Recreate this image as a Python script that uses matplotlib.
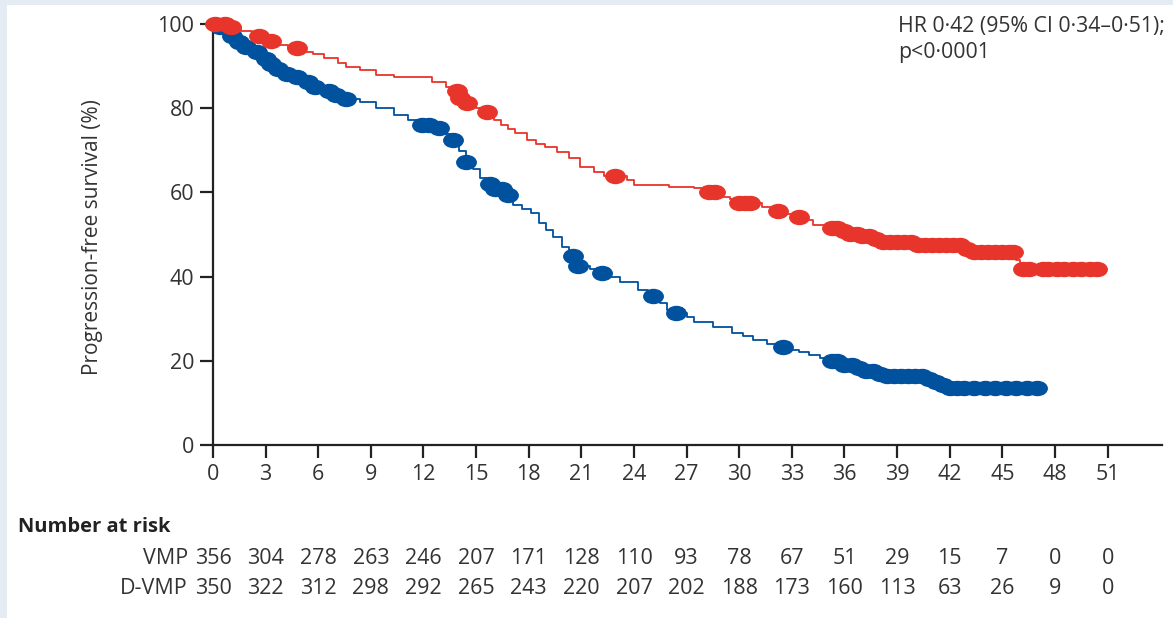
import numpy as np
import matplotlib.pyplot as plt
from matplotlib.patches import Rectangle
from matplotlib.path import Path
from matplotlib.transforms import blended_transform_factory

plt.rcParams['font.family'] = ['Open Sans', 'DejaVu Sans']

# VMP arm (blue): step times (months) and survival (%) after each step
vmp_t = [0, 0.3, 0.6, 1.0, 1.4, 1.8, 2.3, 2.8, 3.1, 3.5, 4.0, 4.6, 5.3, 5.8, 6.5, 7.0, 7.5,
         8.4, 9.3, 10.3, 11.1, 11.8, 12.6, 13.2, 13.6, 14.0, 14.4, 14.8, 15.2, 15.6, 16.1,
         16.6, 17.1, 17.6, 18.1, 18.6, 19.0, 19.4, 19.9, 20.3, 20.7, 21.5, 22.0, 22.7, 23.2,
         24.2, 24.8, 25.5, 25.9, 26.3, 27.0, 27.4, 28.5, 29.6, 30.2, 30.8, 31.6, 32.2, 33.0,
         33.4, 34.0, 34.6, 35.0, 35.8, 36.5, 37.2, 37.8, 38.4, 40.5, 41.0, 41.6, 42.0]
vmp_s = [100, 99.2, 98.3, 97.2, 95.8, 94.5, 93.4, 91.6, 90.5, 89.3, 88.2, 87.4, 86.2, 85.0,
         84.0, 83.1, 82.2, 81.5, 80.0, 78.4, 77.2, 76.0, 75.3, 73.8, 72.4, 69.8, 67.2, 65.5,
         63.5, 62.0, 60.8, 59.5, 57.0, 56.0, 55.1, 52.7, 51.0, 49.4, 47.0, 45.0, 42.6, 41.8,
         40.9, 39.8, 38.7, 36.8, 35.5, 33.8, 32.1, 31.4, 30.3, 29.2, 28.0, 26.6, 25.8, 24.9,
         24.0, 23.3, 22.6, 22.1, 21.4, 20.7, 19.9, 19.0, 18.3, 17.5, 16.8, 16.4, 15.7, 15.0,
         14.3, 13.5]
vmp_cens = [0.4, 1.1, 1.5, 1.9, 2.5, 3.0, 3.3, 3.7, 4.2, 4.8, 5.4, 5.8, 6.6, 7.0, 7.6, 11.9,
            12.3, 12.9, 13.7, 14.4, 15.8, 16.1, 16.5, 16.8, 20.5, 20.8, 22.2, 25.1, 26.4, 32.5,
            35.3, 35.6, 36.0, 36.4, 36.8, 37.2, 37.6, 38.0, 38.4, 38.8, 39.2, 39.6, 40.0, 40.4,
            40.8, 41.2, 41.6, 42.0, 42.4, 42.8, 43.4, 44.0, 44.6, 45.2, 45.8, 46.4, 47.0]

# D-VMP arm (red)
dvmp_t = [0, 0.8, 1.6, 2.2, 2.9, 3.6, 4.3, 5.2, 5.7, 6.3, 7.1, 7.6, 8.4, 9.3, 10.3, 12.5, 13.3,
          13.6, 14.1, 14.4, 15.0, 15.4, 16.0, 16.4, 16.8, 17.2, 17.9, 18.4, 18.9, 19.6, 20.3,
          20.9, 21.7, 22.3, 23.6, 24.0, 26.0, 27.4, 28.0, 28.9, 29.5, 29.9, 31.3, 31.8, 32.3,
          33.0, 33.5, 34.2, 35.0, 35.8, 36.3, 36.9, 37.5, 38.2, 40.0, 42.8, 43.4, 45.8, 46.0]
dvmp_s = [100, 99.4, 98.3, 97.2, 96.0, 95.0, 94.2, 93.4, 92.8, 91.9, 90.7, 89.8, 89.1, 87.9,
          87.4, 86.2, 85.0, 84.0, 82.5, 81.3, 80.0, 79.1, 77.2, 76.0, 75.0, 74.1, 72.4, 71.5,
          70.8, 69.6, 68.2, 66.0, 64.8, 63.9, 62.9, 61.8, 61.3, 61.0, 60.0, 59.0, 58.4, 57.5,
          56.5, 55.6, 54.9, 54.2, 53.5, 52.2, 51.5, 50.8, 50.2, 49.6, 49.0, 48.3, 47.6, 46.6,
          45.8, 44.0, 41.8]
dvmp_cens = [0.1, 0.7, 1.0, 2.6, 3.3, 4.8, 13.9, 14.1, 14.5, 15.6, 22.9, 28.3, 28.6, 30.0, 30.3,
             30.6, 32.2, 33.4, 35.3, 35.6, 36.0, 36.3, 36.7, 37.0, 37.4, 37.8, 38.2, 38.6, 39.0,
             39.4, 39.8, 40.2, 40.6, 41.0, 41.4, 41.8, 42.2, 42.6, 43.0, 43.4, 43.8, 44.2, 44.6,
             45.0, 45.4, 45.6, 46.2, 46.5, 47.3, 47.6, 48.1, 48.5, 49.0, 49.5, 50.0, 50.4]

months = [0, 3, 6, 9, 12, 15, 18, 21, 24, 27, 30, 33, 36, 39, 42, 45, 48, 51]
vmp_risk = [356, 304, 278, 263, 246, 207, 171, 128, 110, 93, 78, 67, 51, 29, 15, 7, 0, 0]
dvmp_risk = [350, 322, 312, 298, 292, 265, 243, 220, 207, 202, 188, 173, 160, 113, 63, 26, 9, 0]

blue = '#00519e'
red = '#e8352b'
txt = '#333333'
fs = 15.5

W, H = 1173, 618
fig = plt.figure(figsize=(W / 100, H / 100), dpi=100, facecolor='#e4ebf2')
fig.patches.append(Rectangle((7 / W, 0), 1 - 7 / W, 1 - 5 / H, transform=fig.transFigure,
                             facecolor='white', edgecolor='none', zorder=-5))
ax = fig.add_axes([213 / W, 1 - 445 / H, (1162 - 213) / W, (445 - 24) / H])
ax.set_zorder(2)
ax.set_facecolor('none')

circ = Path.unit_circle()
oval = Path(circ.vertices * [1, 0.72], circ.codes)


def curve(t, s, cens, color):
    t = np.array(t)
    s = np.array(s)
    c = np.array(cens)
    end = max(t[-1], c[-1])
    ax.step(np.append(t, end), np.append(s, s[-1]), where='post', color=color, lw=1.3,
            clip_on=False, zorder=3)
    cy = s[np.searchsorted(t, c, side='right') - 1]
    ax.plot(c, cy, ls='none', marker=oval, ms=14, color=color, mec=color, clip_on=False, zorder=4)


curve(vmp_t, vmp_s, vmp_cens, blue)
curve(dvmp_t, dvmp_s, dvmp_cens, red)

ax.set_xlim(0, 54.1)
ax.set_ylim(0, 100)
ax.set_xticks(months)
ax.set_yticks([0, 20, 40, 60, 80, 100])
for sp in ['top', 'right']:
    ax.spines[sp].set_visible(False)
for sp in ['left', 'bottom']:
    ax.spines[sp].set_linewidth(1.6)
    ax.spines[sp].set_color('#222222')
ax.tick_params(direction='out', length=9.5, width=1.6, color='#222222',
               labelsize=fs, labelcolor=txt, pad=4)
ax.set_ylabel('Progression-free survival (%)', fontsize=15, color=txt)
ax.yaxis.set_label_coords(-0.116, 0.494)

fig.text(898 / W, 1 - 16 / H, 'HR 0·42 (95% CI 0·34–0·51);\np<0·0001', fontsize=15.3,
         color=txt, ha='left', va='top', linespacing=1.3)

# number at risk table
tr = blended_transform_factory(ax.transData, fig.transFigure)
fig.text(18 / W, 1 - 527 / H, 'Number at risk', fontsize=14.5, fontweight='bold',
         color='#222222', ha='left', va='center')
fig.text(188 / W, 1 - 558 / H, 'VMP', fontsize=fs, color=txt, ha='right', va='center')
fig.text(188 / W, 1 - 588 / H, 'D-VMP', fontsize=fs, color=txt, ha='right', va='center')
for m, a, b in zip(months, vmp_risk, dvmp_risk):
    ax.text(m, 1 - 558 / H, str(a), transform=tr, fontsize=fs, color=txt, ha='center', va='center')
    ax.text(m, 1 - 588 / H, str(b), transform=tr, fontsize=fs, color=txt, ha='center', va='center')

fig.savefig('out.png', dpi=100, facecolor=fig.get_facecolor())
